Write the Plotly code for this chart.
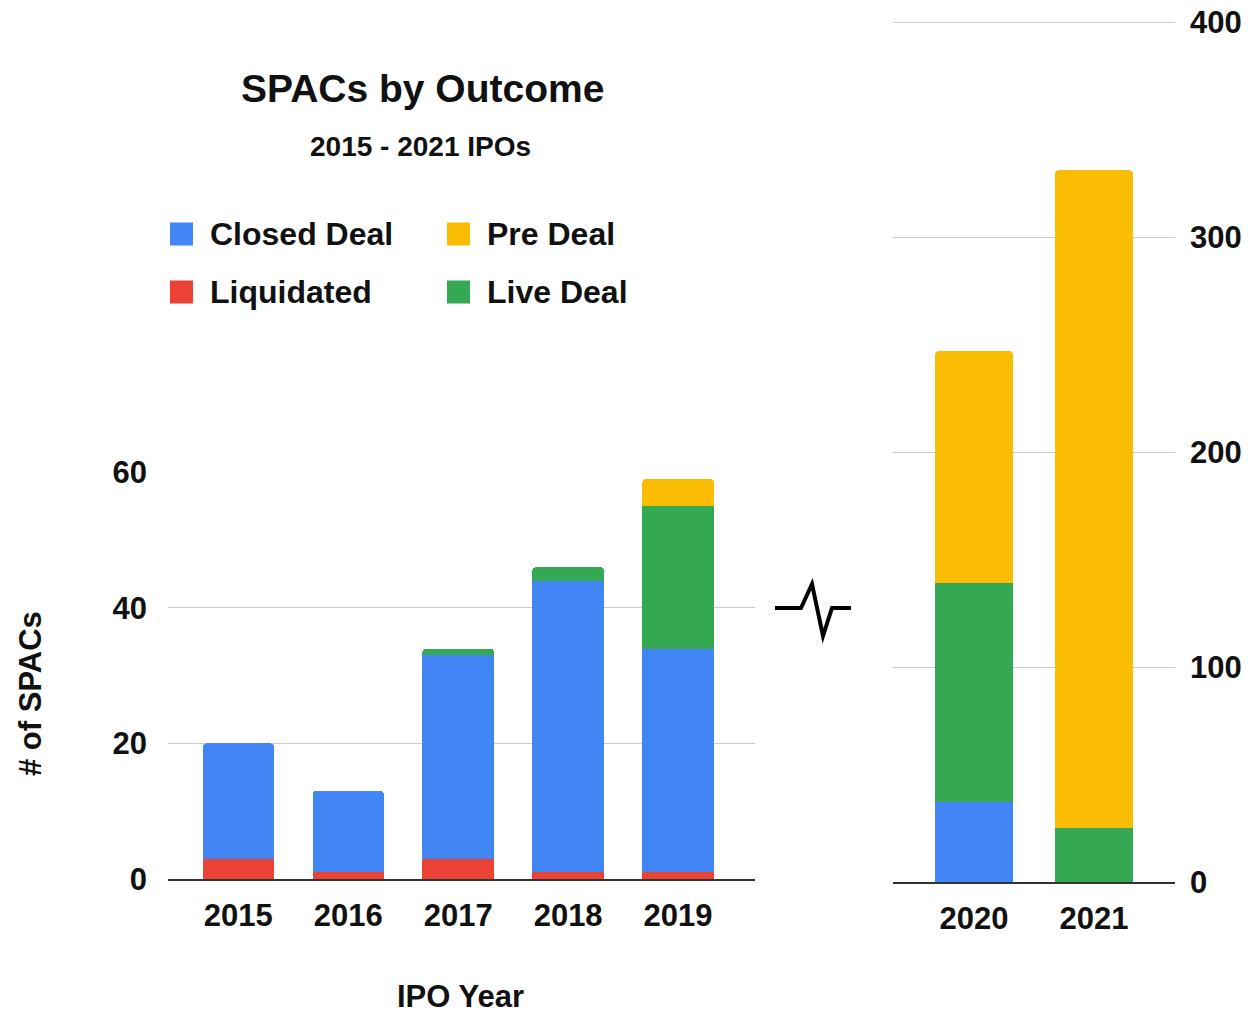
import plotly.graph_objects as go

# IPO years and outcome counts (number of SPACs)
years = ["2015", "2016", "2017", "2018", "2019", "2020", "2021"]
liquidated = [3, 1, 3, 1, 1, 0, 0]
closed_deal = [17, 12, 30, 43, 33, 37, 0]
live_deal = [0, 0, 1, 2, 21, 102, 25]
pre_deal = [0, 0, 0, 0, 4, 108, 306]

left_ticks = [0, 20, 40, 60]
right_ticks = [0, 100, 200, 300, 400]

# stacking order, bottom to top
series = [
    ("Liquidated", liquidated, "#EA4335"),
    ("Closed Deal", closed_deal, "#4285F4"),
    ("Live Deal", live_deal, "#34A853"),
    ("Pre Deal", pre_deal, "#FBBC04"),
]

W, H = 1248, 1014
FONT = "Liberation Sans"


def px(x):
    return x / W


def py(y):
    return 1 - y / H


fig = go.Figure()
split = 5  # 2015-2019 on the left panel, 2020-2021 on the right
for name, vals, color in series:
    fig.add_trace(go.Bar(x=years[:split], y=vals[:split], name=name,
                         marker=dict(color=color, line=dict(width=0)),
                         xaxis="x", yaxis="y", showlegend=False))
    fig.add_trace(go.Bar(x=years[split:], y=vals[split:], name=name,
                         marker=dict(color=color, line=dict(width=0)),
                         xaxis="x2", yaxis="y2", showlegend=False))

tick_font = dict(family=FONT, size=31, color="#111", weight="bold")
axis_common = dict(showgrid=False, showline=True, linecolor="#333", linewidth=2,
                   ticks="", tickfont=tick_font, ticklabelstandoff=8, zeroline=False,
                   fixedrange=True, automargin=False)
yaxis_common = dict(showgrid=True, gridcolor="#cccccc", gridwidth=1, zeroline=False,
                    showline=False, ticks="", tickfont=tick_font, fixedrange=True,
                    automargin=False)

fig.update_layout(
    width=W, height=H,
    margin=dict(l=0, r=0, t=0, b=0, autoexpand=False),
    paper_bgcolor="white", plot_bgcolor="white",
    barmode="stack", bargap=0.35, barcornerradius=4,
    xaxis=dict(domain=[px(168), px(755)], anchor="y", range=[-0.64, 4.7], **axis_common),
    yaxis=dict(domain=[py(879), py(472)], anchor="x", range=[0, 60.05],
               tickvals=left_ticks, ticklabelstandoff=20, **yaxis_common),
    xaxis2=dict(domain=[px(893), px(1175)], anchor="y2", range=[-0.675, 1.675], **axis_common),
    yaxis2=dict(domain=[py(882), py(21)], anchor="x2", range=[0, 400.5], side="right",
                tickvals=right_ticks, ticklabelstandoff=14, **yaxis_common),
)

annotations = [
    dict(text="SPACs by Outcome", x=px(422), y=py(88),
         font=dict(family=FONT, size=39, color="#111", weight="bold")),
    dict(text="2015 - 2021 IPOs", x=px(420), y=py(147),
         font=dict(family=FONT, size=28, color="#111", weight="bold")),
    dict(text="IPO Year", x=px(460), y=py(996),
         font=dict(family=FONT, size=31, color="#111", weight="bold")),
    dict(text="# of SPACs", x=px(30), y=py(694), textangle=-90,
         font=dict(family=FONT, size=31, color="#111", weight="bold")),
]

# legend: two columns, two rows
legend_items = [
    ("Closed Deal", "#4285F4", 170, 234),
    ("Pre Deal", "#FBBC04", 447, 234),
    ("Liquidated", "#EA4335", 170, 292),
    ("Live Deal", "#34A853", 447, 292),
]
shapes = []
for label, color, lx, ly in legend_items:
    shapes.append(dict(type="rect", xref="paper", yref="paper",
                       x0=px(lx), x1=px(lx + 23), y0=py(ly + 11.5), y1=py(ly - 11.5),
                       fillcolor=color, line=dict(width=0)))
    annotations.append(dict(text=label, x=px(lx + 38), y=py(ly), xanchor="left",
                            font=dict(family=FONT, size=32, color="#111", weight="bold")))

# axis break marker between the two panels
pts = [(775, 608), (801, 608), (812, 584), (823, 636), (832, 608), (851, 608)]
path = "M " + " L ".join(f"{px(x)},{py(y)}" for x, y in pts)
shapes.append(dict(type="path", xref="paper", yref="paper", path=path,
                   line=dict(color="black", width=4)))

for a in annotations:
    a.setdefault("xref", "paper")
    a.setdefault("yref", "paper")
    a.setdefault("showarrow", False)
    a.setdefault("xanchor", "center")
    a.setdefault("yanchor", "middle")

fig.update_layout(annotations=annotations, shapes=shapes)

fig.write_html("out.html")
